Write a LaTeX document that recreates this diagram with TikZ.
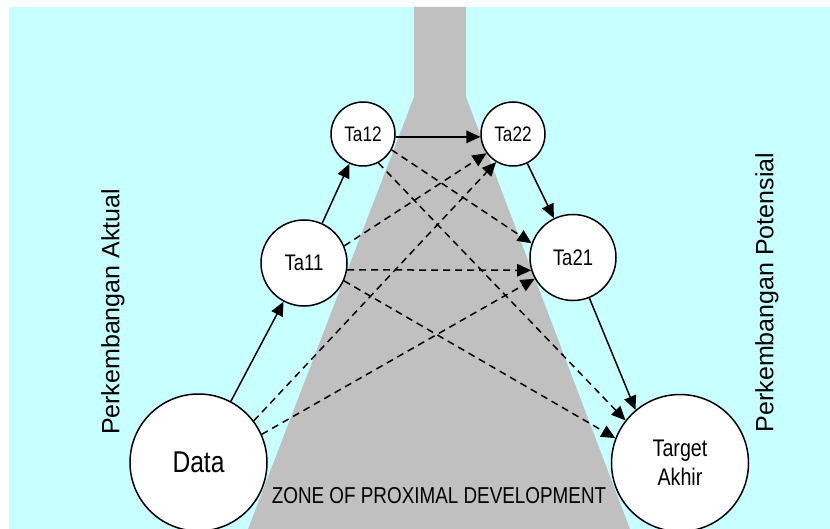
\documentclass[tikz,border=0pt]{standalone}
\usepackage{fontspec}
\setmainfont{Liberation Sans}
\newfontfamily\narrowfont[FakeStretch=0.82]{Liberation Sans}
\usetikzlibrary{arrows.meta}
\definecolor{bgcyan}{RGB}{200,255,255}
\definecolor{zpdgray}{RGB}{192,192,192}
\begin{document}
\begin{tikzpicture}[x=1pt,y=-1pt,
  bubble/.style={circle,draw=black,line width=1.5pt,fill=white,inner sep=0pt,align=center},
  smallbub/.style={bubble,minimum size=64pt,font=\narrowfont\fontsize{21}{25}\selectfont},
  midbub/.style={bubble,minimum size=86pt,font=\narrowfont\fontsize{22.5}{26}\selectfont},
  bigbub/.style={bubble,minimum size=137pt},
  solidarrow/.style={line width=1.5pt,-{Triangle[length=14pt,width=12.5pt]}},
  dasharrow/.style={solidarrow,dash pattern=on 7pt off 5pt},
  sidelabel/.style={rotate=90,font=\fontsize{25}{30}\selectfont}]
\useasboundingbox (0,0) rectangle (830,529);
\fill[white] (0,0) rectangle (830,529);
\fill[bgcyan] (9,7) rectangle (830,529);
\fill[zpdgray] (414,7) -- (466,7) -- (466,97) -- (630,529) -- (248,529) -- (414,97) -- cycle;

\node[bigbub,font=\narrowfont\fontsize{30}{34}\selectfont] (data) at (198.5,462.5) {Data};
\node[bigbub,font=\narrowfont\fontsize{24}{29}\selectfont] (target) at (680,463) {Target\\Akhir};
\node[midbub] (ta11) at (304,263) {Ta11};
\node[midbub] (ta21) at (573,257.5) {Ta21};
\node[smallbub] (ta12) at (363,134) {Ta12};
\node[smallbub] (ta22) at (513,134) {Ta22};

\node[sidelabel] (aktual) at (113,312) {Perkembangan Aktual};
\node[sidelabel] (potensial) at (767,292.5) {Perkembangan Potensial};
\node[anchor=base,font=\narrowfont\fontsize{23}{27}\selectfont] (zpd) at (439,503) {ZONE OF PROXIMAL DEVELOPMENT};

% solid arrows
\draw[solidarrow] (data) -- (ta11);
\draw[solidarrow] (ta11) -- (ta12);
\draw[solidarrow] (ta12.-5) -- (ta22.185);
\draw[solidarrow] (ta22) -- (ta21);
\draw[solidarrow] (ta21.-68) -- (target.130);

% dashed arrows
\draw[dasharrow] (ta12.-29) -- (ta21.161);
\draw[dasharrow] (ta12.-62) -- (target.142);
\draw[dasharrow] (ta11.23) -- (ta22.-144);
\draw[dasharrow] (ta11.-9) -- (ta21.197);
\draw[dasharrow] (ta11.-24) -- (target.159);
\draw[dasharrow] (data.37) -- (ta22.-121);
\draw[dasharrow] (data.24) -- (ta21.-151);
\end{tikzpicture}
\end{document}
